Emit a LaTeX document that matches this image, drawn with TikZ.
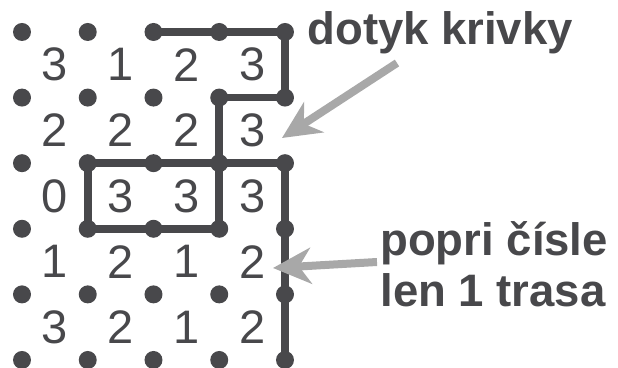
\documentclass[tikz,border=0pt]{standalone}
\usepackage{fontspec}
\setmainfont{Liberation Sans}
\usetikzlibrary{positioning, arrows.meta, calc}
\definecolor{ink}{RGB}{72,72,75}
\definecolor{arrowgray}{RGB}{168,168,168}

\begin{document}
\begin{tikzpicture}[x=0.5pt, y=-0.5pt,
	dot/.style={circle, fill=ink, inner sep=0, minimum size=9pt},
	curve/.style={draw=ink, line width=3.8pt},
	clue/.style={text=ink, inner sep=0, font=\fontsize{23.5}{28}\selectfont},
	note/.style={text=ink, inner sep=0, anchor=base west, font=\fontsize{22.75}{25.5}\selectfont\bfseries},
	hint/.style={draw=arrowgray, line width=4pt, -{Stealth[length=19pt, width=18pt, inset=6pt]}}]
	\useasboundingbox (0,0) rectangle (618,368);
	
	% Grid points
	\foreach \i in {0,...,4}
	\foreach \j in {0,...,5}
	\node[dot] (d-\i-\j) at ({22+65.75*\i},{32+65.6*\j}) {};
	
	% Clues
	\foreach \r/\row in {0/{3,1,2,3}, 1/{2,2,2,3}, 2/{0,3,3,3}, 3/{1,2,1,2}, 4/{3,2,1,2}}
	\foreach \n [count=\c from 0] in \row
	\node[clue] (n-\c-\r) at ({22+65.75*(\c+0.5)},{32+65.6*(\r+0.5)}) {\n};
	
	% Curve
	\draw[curve] (d-2-0.center) -- (d-4-0.center) -- (d-4-1.center) -- (d-3-1.center)
	-- (d-3-2.center) -- (d-1-2.center) -- (d-1-3.center) -- (d-3-3.center) -- (d-3-2.center);
	\draw[curve] (d-3-2.center) -- (d-4-2.center) -- (d-4-5.center);
	
	% Notes
	\node[note] (touch) at (307,45) {dotyk krivky};
	\node[note] (single) at (380,256) {popri čísle};
	\node[note] (single2) at ($(single.base west) + (0,51)$) {len 1 trasa};
	
	% Pointers
	\coordinate (touch-from) at ($(touch.base west) + (90,18)$);
	\coordinate (touch-to) at (282,138);
	\coordinate (single-from) at ($(single.base west) + (-3,6)$);
	\coordinate (single-to) at (273,268);
	\draw[hint] (touch-from) -- (touch-to);
	\draw[hint] (single-from) -- (single-to);
\end{tikzpicture}
\end{document}
